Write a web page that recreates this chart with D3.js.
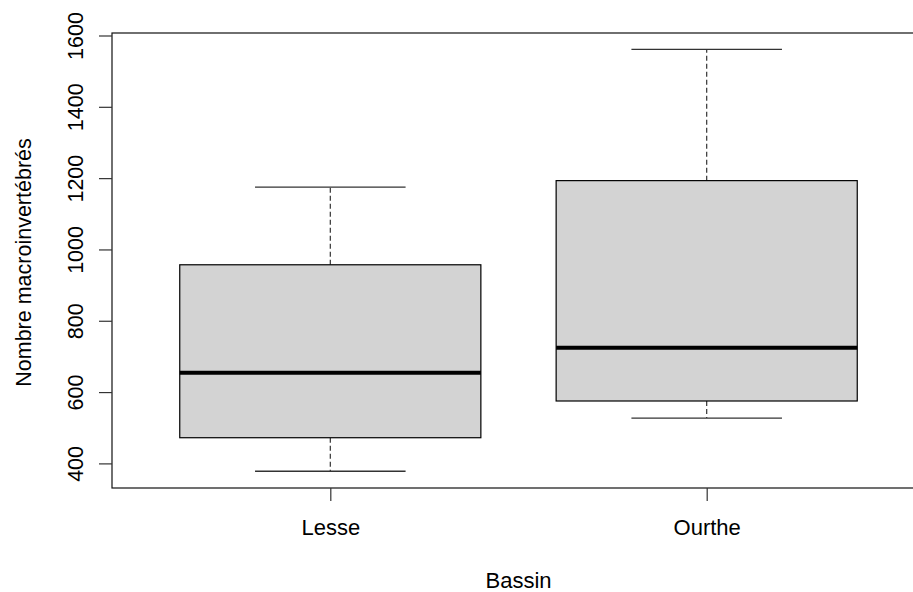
<!DOCTYPE html>
<html>
<head>
<meta charset="utf-8">
<script src="https://cdn.jsdelivr.net/npm/d3@7"></script>
<style>
body{margin:0;background:#fff;}
text{font-family:"Liberation Sans",Arial,sans-serif;fill:#000;}
</style>
</head>
<body>
<svg id="chart"></svg>
<script>
// boxplot stats
var bassins = ["Lesse", "Ourthe"];
var lowWhisker = [378, 527];
var q1 = [472, 575];
var medians = [654, 724];
var q3 = [957, 1193];
var highWhisker = [1175, 1561];
var yTicks = [400, 600, 800, 1000, 1200, 1400, 1600];

var screen = {width: 913, height: 592};
var margins = {top: 33, right: -12, bottom: 104, left: 112};

var svg = d3.select("#chart")
  .attr("width", screen.width)
  .attr("height", screen.height);

var plotBottom = screen.height - margins.bottom;
var plotRight = screen.width - margins.right;

// R style: positions 1..n, extended by 4%
var x = d3.scaleLinear().domain([0.42, 2.58]).range([margins.left, plotRight]);
var y = d3.scaleLinear().domain([331, 1607]).range([plotBottom, margins.top]);

var data = bassins.map(function(b, i){
  return {name: b, pos: i + 1, lo: lowWhisker[i], q1: q1[i], med: medians[i], q3: q3[i], hi: highWhisker[i]};
});

var boxW = 0.8, capW = 0.4;

var g = svg.append("g");

// whiskers (dashed)
g.selectAll(".wh").data(data).enter().append("line")
  .attr("x1", function(d){return x(d.pos);}).attr("x2", function(d){return x(d.pos);})
  .attr("y1", function(d){return y(d.q3);}).attr("y2", function(d){return y(d.hi);})
  .attr("stroke", "#333").attr("stroke-width", 1.2).attr("stroke-dasharray", "5,3");
g.selectAll(".wl").data(data).enter().append("line")
  .attr("x1", function(d){return x(d.pos);}).attr("x2", function(d){return x(d.pos);})
  .attr("y1", function(d){return y(d.q1);}).attr("y2", function(d){return y(d.lo);})
  .attr("stroke", "#333").attr("stroke-width", 1.2).attr("stroke-dasharray", "5,3");

// caps
["hi", "lo"].forEach(function(k){
  g.selectAll(".cap-" + k).data(data).enter().append("line")
    .attr("x1", function(d){return x(d.pos - capW / 2);})
    .attr("x2", function(d){return x(d.pos + capW / 2);})
    .attr("y1", function(d){return y(d[k]);}).attr("y2", function(d){return y(d[k]);})
    .attr("stroke", "#333").attr("stroke-width", 1.3);
});

// boxes
g.selectAll(".box").data(data).enter().append("rect")
  .attr("x", function(d){return x(d.pos - boxW / 2);})
  .attr("width", function(d){return x(d.pos + boxW / 2) - x(d.pos - boxW / 2);})
  .attr("y", function(d){return y(d.q3);})
  .attr("height", function(d){return y(d.q1) - y(d.q3);})
  .attr("fill", "#d3d3d3").attr("stroke", "#000").attr("stroke-width", 1.2);

// medians
g.selectAll(".med").data(data).enter().append("line")
  .attr("x1", function(d){return x(d.pos - boxW / 2);})
  .attr("x2", function(d){return x(d.pos + boxW / 2);})
  .attr("y1", function(d){return y(d.med);}).attr("y2", function(d){return y(d.med);})
  .attr("stroke", "#000").attr("stroke-width", 4);

// frame (right side falls outside the picture)
svg.append("rect")
  .attr("x", margins.left).attr("y", margins.top)
  .attr("width", plotRight - margins.left).attr("height", plotBottom - margins.top)
  .attr("fill", "none").attr("stroke", "#111").attr("stroke-width", 1.2);

// y axis
var yAxis = svg.append("g")
  .attr("transform", "translate(" + margins.left + ",0)")
  .call(d3.axisLeft(y).tickValues(yTicks).tickSize(13).tickSizeOuter(0).tickFormat(d3.format("d")));
yAxis.select(".domain").remove();
yAxis.selectAll("line").attr("stroke", "#333").attr("stroke-width", 1.2);
yAxis.selectAll("text")
  .attr("transform", "translate(-29,0) rotate(-90)")
  .attr("x", 0).attr("dy", 0).attr("y", 0)
  .attr("text-anchor", "middle")
  .style("font-size", "21.5px")
  .style("font-family", "'Liberation Sans', Arial, sans-serif");

// x axis
var xAxis = svg.append("g")
  .attr("transform", "translate(0," + plotBottom + ")")
  .call(d3.axisBottom(x).tickValues([1, 2]).tickSize(13).tickSizeOuter(0)
    .tickFormat(function(d){return bassins[d - 1];}));
xAxis.select(".domain").remove();
xAxis.selectAll("line").attr("stroke", "#333").attr("stroke-width", 1.2);
xAxis.selectAll("text")
  .attr("y", 47).attr("dy", 0)
  .style("font-size", "22px")
  .style("font-family", "'Liberation Sans', Arial, sans-serif");

// axis titles
svg.append("text")
  .attr("x", x(1.5)).attr("y", 588)
  .attr("text-anchor", "middle")
  .style("font-size", "22px")
  .text("Bassin");

svg.append("text")
  .attr("transform", "translate(31," + ((margins.top + plotBottom) / 2 + 2) + ") rotate(-90)")
  .attr("text-anchor", "middle")
  .style("font-size", "21.5px")
  .text("Nombre macroinvertébrés");
</script>
</body>
</html>
